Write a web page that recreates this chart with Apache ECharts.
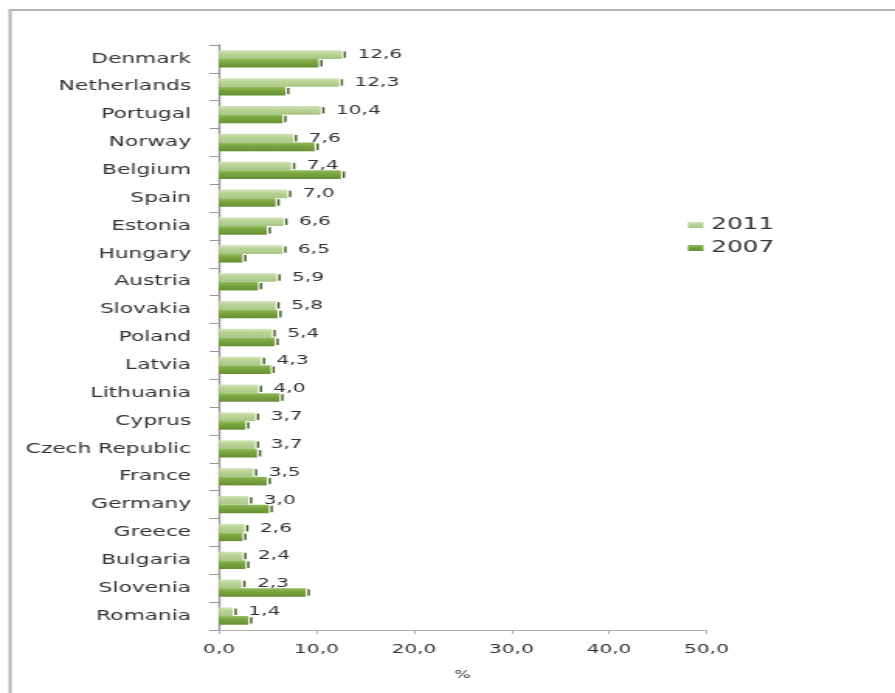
<!DOCTYPE html>
<html><head><meta charset="utf-8">
<script src="https://cdn.jsdelivr.net/npm/echarts@6/dist/echarts.min.js"></script>
<style>
html,body{margin:0;padding:0;background:#fff;overflow:hidden}
#wrap{width:895px;height:693px;overflow:hidden;position:relative;background:#fff}
#main{width:577px;height:693px;transform:scaleX(1.551);transform-origin:0 0}
</style></head><body>
<div id="wrap"><div id="main"></div></div>
<script>
const categories = ["Denmark","Netherlands","Portugal","Norway","Belgium","Spain","Estonia","Hungary","Austria","Slovakia","Poland","Latvia","Lithuania","Cyprus","Czech Republic","France","Germany","Greece","Bulgaria","Slovenia","Romania"];
const values2011 = [12.6,12.3,10.4,7.6,7.4,7.0,6.6,6.5,5.9,5.8,5.4,4.3,4.0,3.7,3.7,3.5,3.0,2.6,2.4,2.3,1.4];
const values2007 = [10.2,6.8,6.5,9.8,12.5,5.8,4.9,2.4,4.0,6.0,5.7,5.3,6.2,2.7,3.9,4.9,5.1,2.4,2.7,8.9,3.0];
const seriesNames = ["2011","2007"];
const xMin = 0, xMax = 50, xStep = 10;
const axisTitle = "%";

const FONT = "DejaVu Sans";
const comma = v => Number(v).toFixed(1).replace('.', ',');
const CAT_GAP = 0.38;

function tickSeries(values, idx) {
  return {
    type: 'custom', silent: true, z: 4,
    data: values.map((v, i) => [v, i]),
    encode: { x: 0, y: 1 },
    renderItem: (params, api) => {
      const p = api.coord([api.value(0), api.value(1)]);
      const band = api.size([0, 1])[1];
      const bw = band * (1 - CAT_GAP) / 2;
      const cy = p[1] + (idx === 0 ? -bw / 2 : bw / 2);
      return { type: 'rect', shape: { x: p[0] + 1.2, y: cy - 3.2, width: 1.4, height: 6.4 }, style: { fill: '#3d5a1e' } };
    }
  };
}

const chart = echarts.init(document.getElementById('main'), null, { renderer: 'canvas' });
chart.setOption({
  animation: false,
  backgroundColor: '#ffffff',
  textStyle: { fontFamily: FONT },
  graphic: [{
    type: 'polyline', silent: true,
    shape: { points: [[6.5, 693], [6.5, 10], [577, 10]] },
    style: { stroke: '#b3b3b3', lineWidth: 2, fill: null }
  }],
  legend: {
    data: seriesNames,
    orient: 'vertical',
    left: 438.5, top: 212,
    itemWidth: 10, itemHeight: 6, itemGap: 7,
    icon: 'rect',
    textStyle: { fontFamily: FONT, fontSize: 16, color: '#333' }
  },
  grid: { left: 141.2, right: 121.5, top: 45, bottom: 63, containLabel: false },
  xAxis: {
    type: 'value', min: xMin, max: xMax, interval: xStep,
    name: axisTitle, nameLocation: 'middle', nameGap: 40,
    nameTextStyle: { fontFamily: FONT, fontSize: 11, color: '#333' },
    axisLine: { show: true, lineStyle: { color: '#b0b0b0', width: 1 } },
    axisTick: { show: true, length: 4, lineStyle: { color: '#b0b0b0' } },
    splitLine: { show: false },
    axisLabel: { fontFamily: FONT, fontSize: 13, color: '#333', margin: 13, formatter: v => comma(v) }
  },
  yAxis: {
    type: 'category', data: categories, inverse: true, offset: 4,
    axisLine: { show: true, lineStyle: { color: '#999', width: 1.3 } },
    axisTick: { show: true, length: 6, lineStyle: { color: '#999' } },
    axisLabel: { fontFamily: FONT, fontSize: 14, color: '#333', margin: 14, padding: [6, 0, 0, 0] }
  },
  series: [
    {
      name: seriesNames[0], type: 'bar', data: values2011,
      barCategoryGap: (CAT_GAP * 100) + '%', barGap: '0%',
      itemStyle: { color: new echarts.graphic.LinearGradient(0, 0, 0, 1, [
        { offset: 0, color: '#d3e5bc' }, { offset: 0.35, color: '#bcd69a' }, { offset: 1, color: '#a8c684' }]) },
      label: { show: true, position: 'right', distance: 10, fontFamily: FONT, fontSize: 13, color: '#333', formatter: p => comma(p.value) }
    },
    {
      name: seriesNames[1], type: 'bar', data: values2007,
      barCategoryGap: (CAT_GAP * 100) + '%', barGap: '0%',
      itemStyle: { color: new echarts.graphic.LinearGradient(0, 0, 0, 1, [
        { offset: 0, color: '#93bb5e' }, { offset: 0.4, color: '#7aa540' }, { offset: 1, color: '#678f33' }]) }
    },
    tickSeries(values2011, 0),
    tickSeries(values2007, 1)
  ]
});
</script>
</body></html>
